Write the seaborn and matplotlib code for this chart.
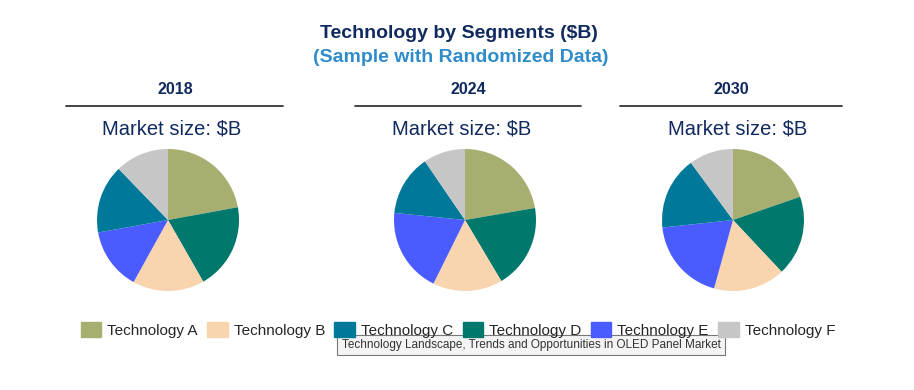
import matplotlib
matplotlib.use("Agg")
import matplotlib.pyplot as plt
import matplotlib.patches as mpatches
from matplotlib.lines import Line2D
import seaborn as sns

# Data (shares, % of total)
years = ["2018", "2024", "2030"]
technologies = ["Technology A", "Technology B", "Technology C",
                "Technology D", "Technology E", "Technology F"]
share_2018 = [22.1, 16.3, 15.6, 19.6, 14.1, 12.2]
share_2024 = [22.2, 15.8, 13.8, 19.1, 19.2, 9.5]
share_2030 = [19.7, 16.3, 16.6, 18.3, 19.0, 10.1]
# order in which the wedges run clockwise from 12 o'clock
wedge_order = [0, 3, 1, 4, 2, 5]

colors = ["#A7AE70", "#F8D4AF", "#007899", "#00786C", "#4A5CFF", "#C6C6C6"]

sns.set_theme(style="white")
plt.rcParams["font.family"] = ["Liberation Sans", "DejaVu Sans"]

W, H = 914, 390
fig = plt.figure(figsize=(W / 100, H / 100), dpi=100)

navy = "#10295E"

fig.text(459 / W, 1 - 33 / H, "Technology by Segments ($B)", ha="center", va="center",
         fontsize=14, fontweight="bold", color=navy)
fig.text(461 / W, 1 - 57 / H, "(Sample with Randomized Data)", ha="center", va="center",
         fontsize=14, fontweight="bold", color="#2E8CCB")

centers = [168, 465, 733]
header_x = [175, 468, 731]
rules = [(66, 283), (355, 581), (620, 842)]
market_x = [172, 462, 738]
radius = 71
cy = 220

for i, vals in enumerate([share_2018, share_2024, share_2030]):
    fig.text(header_x[i] / W, 1 - 90 / H, years[i], ha="center", va="center",
             fontsize=11.5, fontweight="bold", color=navy)
    fig.add_artist(Line2D([rules[i][0] / W, rules[i][1] / W], [1 - 106 / H, 1 - 106 / H],
                          color="#222222", lw=1.2))
    fig.text(market_x[i] / W, 1 - 129 / H, "Market size: $B", ha="center", va="center",
             fontsize=14.5, color=navy)
    ax = fig.add_axes([(centers[i] - radius) / W, (H - cy - radius) / H,
                       2 * radius / W, 2 * radius / H])
    ax.pie([vals[k] for k in wedge_order], colors=[colors[k] for k in wedge_order],
           startangle=90, counterclock=False, radius=1,
           wedgeprops=dict(linewidth=0))
    ax.set_xlim(-1, 1)
    ax.set_ylim(-1, 1)
    ax.set_aspect("equal")
    ax.axis("off")

handles = [mpatches.Patch(color=c, label=t) for c, t in zip(colors, technologies)]
fig.legend(handles=handles, loc="center", bbox_to_anchor=(458 / W, 1 - 330 / H), ncol=6,
           frameon=False, fontsize=11, handlelength=1.35, handleheight=1.1,
           handletextpad=0.4, columnspacing=0.6, borderpad=0, borderaxespad=0)

# tooltip box overlaying the legend
fig.text(531 / W, 1 - 345 / H,
         "Technology Landscape, Trends and Opportunities in OLED Panel Market",
         ha="center", va="center", fontsize=8.5, color="#333333",
         bbox=dict(boxstyle="square,pad=0.35", facecolor="#F4F4F4", edgecolor="#777777", lw=0.8))

fig.savefig("out.png", dpi=100)
